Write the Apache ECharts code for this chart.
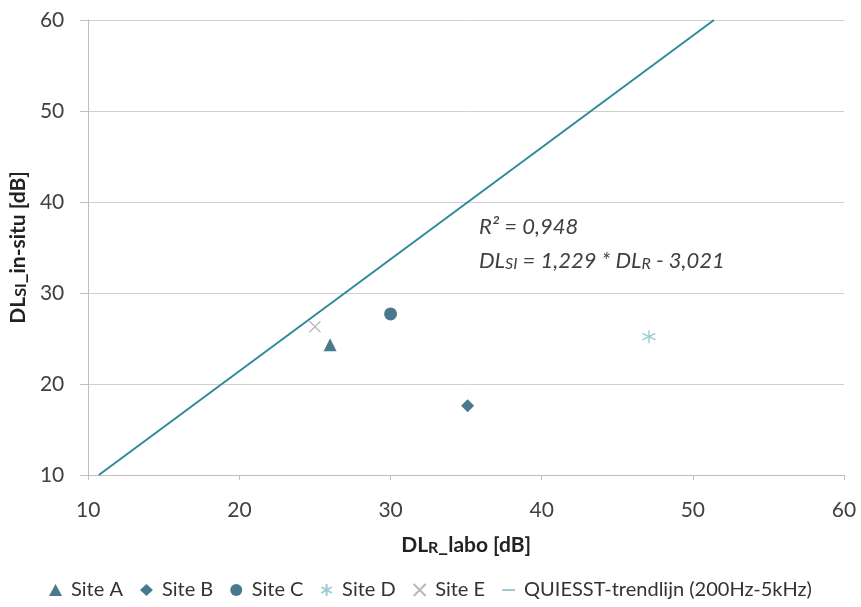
<!DOCTYPE html>
<html><head><meta charset="utf-8">
<script src="https://cdn.jsdelivr.net/npm/echarts@6/dist/echarts.min.js"></script>
<style>html,body{margin:0;padding:0;background:#fff}#c{width:861px;height:607px}</style>
</head><body><div id="c"></div>
<script>
const xTicks = [10, 20, 30, 40, 50, 60];
const yTicks = [10, 20, 30, 40, 50, 60];
const siteA = [[26.0, 24.3]];
const siteB = [[35.1, 17.6]];
const siteC = [[30.0, 27.7]];
const siteD = [[47.1, 25.2]];
const siteE = [[25.0, 26.3]];
const trendline = [[10.7, 10], [51.4, 60]];
const seriesNames = ['Site A', 'Site B', 'Site C', 'Site D', 'Site E', 'QUIESST-trendlijn (200Hz-5kHz)'];

const FONT = 'Lato';
const dark = '#1B5870';
const lineCol = '#2F8A9A';
const chart = echarts.init(document.getElementById('c'));
const xPath = 'path://M0,0L10,10M10,0L0,10';
const astPath = 'path://M5,0L5,10M0.7,2.5L9.3,7.5M0.7,7.5L9.3,2.5';
const titleRich = {
  b: { fontFamily: FONT, fontWeight: 'bold', fontSize: 21, color: '#222', verticalAlign: 'bottom' },
  s: { fontFamily: FONT, fontWeight: 'bold', fontSize: 16, color: '#222', verticalAlign: 'bottom' }
};
chart.setOption({
  animation: false,
  textStyle: { fontFamily: FONT },
  grid: { left: 86, right: 17, top: 20, bottom: 132 },
  xAxis: {
    type: 'value', min: xTicks[0], max: xTicks[xTicks.length - 1], interval: 10,
    name: '{b|DL}{s|R}{b|_labo [dB]}', nameLocation: 'middle', nameGap: 60,
    nameTextStyle: { rich: titleRich },
    axisLine: { show: true, lineStyle: { color: '#bfbfbf', width: 1 } },
    axisTick: { show: true, length: 5, lineStyle: { color: '#bfbfbf' } },
    axisLabel: { fontSize: 21, color: '#404040', margin: 25, fontFamily: FONT },
    splitLine: { show: false }
  },
  yAxis: {
    type: 'value', min: yTicks[0], max: yTicks[yTicks.length - 1], interval: 10,
    name: '{b|DL}{s|SI}{b|_in-situ [dB]}', nameLocation: 'middle', nameGap: 57,
    nameTextStyle: { rich: titleRich },
    axisLine: { show: true, lineStyle: { color: '#bfbfbf', width: 1 } },
    axisTick: { show: true, length: 8, lineStyle: { color: '#bfbfbf' } },
    axisLabel: { fontSize: 21, color: '#404040', margin: 24, fontFamily: FONT },
    splitLine: { show: true, lineStyle: { color: '#d0d0d0', width: 1 } }
  },
  legend: {
    bottom: 2, left: 'center', itemGap: 17, itemWidth: 13, itemHeight: 12,
    textStyle: { fontSize: 20, color: '#333', fontFamily: FONT, padding: [0, 0, 0, 4] },
    data: [
      { name: seriesNames[0] }, { name: seriesNames[1] }, { name: seriesNames[2] },
      { name: seriesNames[3] }, { name: seriesNames[4] },
      { name: seriesNames[5], icon: 'path://M0,4.3L20,4.3L20,5.7L0,5.7Z', itemStyle: { color: lineCol } }
    ]
  },
  series: [
    { name: seriesNames[0], type: 'scatter', data: siteA, symbol: 'triangle', symbolSize: 13, itemStyle: { color: dark } },
    { name: seriesNames[1], type: 'scatter', data: siteB, symbol: 'diamond', symbolSize: 13, itemStyle: { color: dark } },
    { name: seriesNames[2], type: 'scatter', data: siteC, symbol: 'circle', symbolSize: 13, itemStyle: { color: dark } },
    { name: seriesNames[3], type: 'scatter', data: siteD, symbol: astPath, symbolSize: 13,
      itemStyle: { color: 'rgba(0,0,0,0)', borderColor: '#7FBFC8', borderWidth: 1.4 } },
    { name: seriesNames[4], type: 'scatter', data: siteE, symbol: xPath, symbolSize: 11,
      itemStyle: { color: 'rgba(0,0,0,0)', borderColor: '#A8A8A8', borderWidth: 1.3 } },
    { name: seriesNames[5], type: 'line', data: trendline, symbol: 'none', showSymbol: false,
      lineStyle: { color: lineCol, width: 2 }, itemStyle: { color: lineCol } }
  ],
  graphic: [
    { type: 'text', left: 479, top: 216, style: {
      text: 'R² = 0,948', font: 'italic 22px ' + FONT, fill: '#404040' } },
    { type: 'text', left: 479, top: 250, style: {
      text: '{b|DL}{s|SI}{b| = 1,229 * DL}{s|R}{b| - 3,021}',
      rich: {
        b: { font: 'italic 22px ' + FONT, fill: '#404040', verticalAlign: 'bottom' },
        s: { font: 'italic 16px ' + FONT, fill: '#404040', verticalAlign: 'bottom' }
      } } }
  ]
});
</script></body></html>
